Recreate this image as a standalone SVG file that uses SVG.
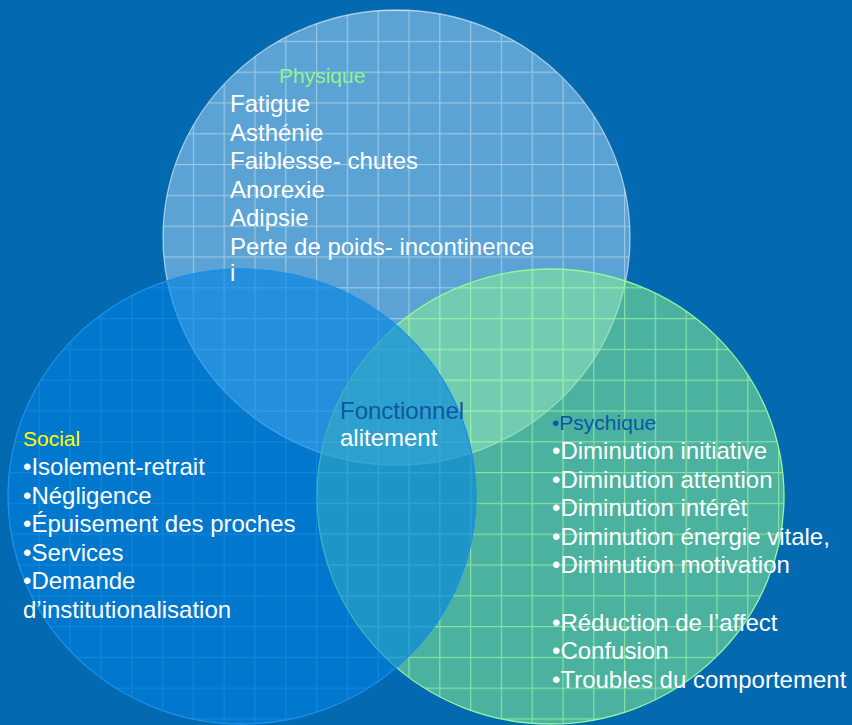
<svg xmlns="http://www.w3.org/2000/svg" width="852" height="725" viewBox="0 0 852 725">
  <defs>
    <!-- shared square grid, drawn in each circle with its own line colour -->
    <pattern id="grid-white" patternUnits="userSpaceOnUse" x="8" y="10" width="30.8" height="30.8">
      <rect x="0" y="0" width="1.2" height="30.8" fill="#ffffff"/>
      <rect x="0" y="0" width="30.8" height="1.2" fill="#ffffff"/>
    </pattern>
    <pattern id="grid-green" patternUnits="userSpaceOnUse" x="8" y="10" width="30.8" height="30.8">
      <rect x="0" y="0" width="1.2" height="30.8" fill="#96f2a4"/>
      <rect x="0" y="0" width="30.8" height="1.2" fill="#96f2a4"/>
    </pattern>
    <pattern id="grid-blue" patternUnits="userSpaceOnUse" x="8" y="10" width="30.8" height="30.8">
      <rect x="0" y="0" width="1.2" height="30.8" fill="#2a98ec"/>
      <rect x="0" y="0" width="30.8" height="1.2" fill="#2a98ec"/>
    </pattern>
    <style>
      text { font-family: "Liberation Sans", Arial, sans-serif; }
      .item { fill: #ffffff; font-size: 24px; }
      .head { font-size: 21px; }
      .edge { fill: none; stroke-width: 1.3; }
    </style>
  </defs>

  <rect width="852" height="725" fill="#0369b0"/>

  <!-- Physique (top) -->
  <g id="physique">
    <ellipse cx="396.5" cy="237.5" rx="233.5" ry="227.5" fill="#5aa3d4"/>
    <ellipse cx="396.5" cy="237.5" rx="233.5" ry="227.5" fill="url(#grid-white)" opacity="0.38"/>
    <ellipse class="edge" cx="396.5" cy="237.5" rx="233.5" ry="227.5" stroke="#ffffff" stroke-opacity="0.55"/>
  </g>

  <!-- Psychique (right) -->
  <g id="psychique">
    <ellipse cx="550.5" cy="496.5" rx="233.5" ry="227.5" fill="#87ee94" fill-opacity="0.55"/>
    <ellipse cx="550.5" cy="496.5" rx="233.5" ry="227.5" fill="url(#grid-green)" opacity="0.75"/>
    <ellipse class="edge" cx="550.5" cy="496.5" rx="233.5" ry="227.5" stroke="#98f59c"/>
  </g>

  <!-- Social (left) -->
  <g id="social">
    <ellipse cx="242" cy="496.5" rx="234" ry="227.5" fill="#0082e1" fill-opacity="0.6"/>
    <ellipse cx="242" cy="496.5" rx="234" ry="227.5" fill="url(#grid-blue)" opacity="0.4"/>
    <ellipse class="edge" cx="242" cy="496.5" rx="234" ry="227.5" stroke="#1c90ea"/>
  </g>

  <!-- labels -->
  <g id="physique-text">
    <text class="head" x="279" y="83" fill="#8ef58e">Physique</text>
    <text class="item" x="230" y="112">Fatigue</text>
    <text class="item" x="230" y="140.6">Asthénie</text>
    <text class="item" x="230" y="169.2">Faiblesse- chutes</text>
    <text class="item" x="230" y="197.8">Anorexie</text>
    <text class="item" x="230" y="226.4">Adipsie</text>
    <text class="item" x="230" y="255">Perte de poids- incontinence</text>
    <text class="item" x="230" y="281">i</text>
  </g>

  <g id="fonctionnel">
    <text x="340" y="419" font-size="24" fill="#0d58a0">Fonctionnel</text>
    <text class="item" x="340" y="446">alitement</text>
  </g>

  <g id="social-text">
    <text class="head" x="23" y="446" fill="#ffff00">Social</text>
    <text class="item" x="23" y="475">•Isolement-retrait</text>
    <text class="item" x="23" y="503.6">•Négligence</text>
    <text class="item" x="23" y="532.2">•Épuisement des proches</text>
    <text class="item" x="23" y="560.8">•Services</text>
    <text class="item" x="23" y="589.4">•Demande</text>
    <text class="item" x="23" y="618">d’institutionalisation</text>
  </g>

  <g id="psychique-text">
    <text class="head" x="552" y="430" fill="#0b56a6">•Psychique</text>
    <text class="item" x="552" y="459">•Diminution initiative</text>
    <text class="item" x="552" y="487.6">•Diminution attention</text>
    <text class="item" x="552" y="516.2">•Diminution intérêt</text>
    <text class="item" x="552" y="544.8">•Diminution énergie vitale,</text>
    <text class="item" x="552" y="573.4">•Diminution motivation</text>
    <text class="item" x="552" y="630.6">•Réduction de l’affect</text>
    <text class="item" x="552" y="659.2">•Confusion</text>
    <text class="item" x="552" y="687.8">•Troubles du comportement</text>
  </g>
</svg>
